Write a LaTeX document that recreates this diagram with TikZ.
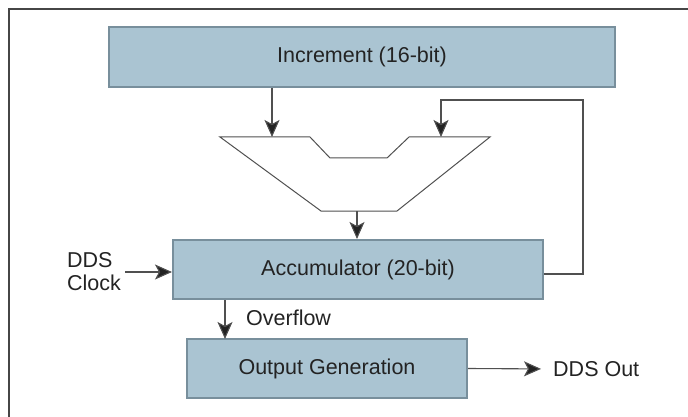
\documentclass[tikz,border=0pt]{standalone}
\usepackage{fontspec}
\setmainfont{Liberation Sans}
\usetikzlibrary{arrows.meta}

\definecolor{boxfill}{RGB}{170,196,210}
\definecolor{boxline}{RGB}{120,143,156}
\definecolor{wire}{RGB}{80,80,80}
\definecolor{ink}{RGB}{35,35,35}

\tikzset{
    block/.style={draw=boxline, fill=boxfill, line width=2pt, text=ink,
                  font=\fontsize{21.5}{23}\selectfont},
    arr/.style={draw=wire, line width=1.1pt, -{Stealth[length=17pt,width=15pt,inset=4pt,fill=ink]}},
    lbl/.style={text=ink, font=\fontsize{21.5}{23}\selectfont, inner sep=0pt}
}

\begin{document}
\begin{tikzpicture}[x=1pt,y=-1pt]
    \useasboundingbox (0,0) rectangle (688,417);
    % frame
    \draw [line width=2pt, draw={rgb,255:red,70;green,70;blue,70}] (9,417) -- (9,9) -- (688,9);

    % blocks
    \node[block, minimum width=506pt, minimum height=60pt] (inc) at (362,57) {Increment (16-bit)};
    \node[block, minimum width=370pt, minimum height=59pt] (acc) at (358,269.5) {Accumulator (20-bit)};
    \node[block, minimum width=280pt, minimum height=59pt] (gen) at (327,368.5) {Output Generation};

    % adder
    \draw [draw=wire, line width=1pt] (220,137) -- (310,137) -- (330,158) -- (387,158) -- (409,137)
        -- (490,137) -- (397,211) -- (321,211) -- cycle;
    \coordinate (in1) at (272,137);
    \coordinate (in2) at (441,137);
    \coordinate (sum) at (357,211);
    \coordinate (fb) at (583,100);
    \coordinate (ovf) at (225,339);

    % labels
    \node[lbl, anchor=west, align=left] (clk) at (67,272) {DDS\\Clock};
    \node[lbl, anchor=west] (ovflbl) at (246,318) {Overflow};
    \node[lbl, anchor=west] (ddsout) at (553,369) {DDS Out};

    % connectors
    \draw [arr] (inc.south -| in1) -- (in1);
    \draw [arr] ([yshift=-4.5pt]acc.east) -| (fb) -| (in2);
    \draw [arr] (sum) -- (acc.north -| sum);
    \draw [arr, shorten <=4pt] (clk.east) -- (clk.east -| acc.west);
    \draw [arr] (acc.south -| ovf) -- (ovf);
    \draw [arr, shorten >=12pt] (gen.east) -- (ddsout.west);
\end{tikzpicture}
\end{document}
